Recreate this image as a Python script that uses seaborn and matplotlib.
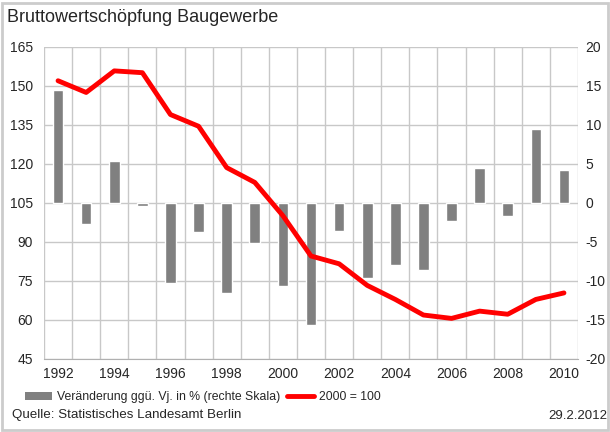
import matplotlib
matplotlib.use("Agg")
import matplotlib.pyplot as plt
from matplotlib.patches import Patch, Rectangle
from matplotlib.lines import Line2D
import seaborn as sns
import pandas as pd
import numpy as np

# data
years = [str(y) for y in range(1992, 2011)]
change_pct = [14.5, -2.7, 5.3, -0.4, -10.3, -3.7, -11.6, -5.2, -10.7, -15.7,
              -3.6, -9.7, -8.0, -8.6, -2.3, 4.5, -1.7, 9.4, 4.2]
index_2000 = [151.9, 147.4, 155.7, 155.0, 138.9, 134.4, 118.5, 112.8, 100.0, 84.5,
              81.5, 73.2, 67.8, 61.8, 60.5, 63.3, 62.1, 67.8, 70.3]
left_ticks = [45, 60, 75, 90, 105, 120, 135, 150, 165]
right_ticks = [-20, -15, -10, -5, 0, 5, 10, 15, 20]

df = pd.DataFrame({"year": years, "change": change_pct, "index": index_2000,
                   "pos": np.arange(len(years))})

sns.set_style("white")
plt.rcParams["font.family"] = ["Liberation Sans", "DejaVu Sans"]

fig = plt.figure(figsize=(6.10, 4.32), dpi=100)
fig.patch.set_facecolor("white")
# thin grey frame round the whole picture
fig.add_artist(Rectangle((0.004, 0.004), 0.992, 0.988, transform=fig.transFigure,
                         fill=False, edgecolor="#cccccc", linewidth=2))

ax = fig.add_axes([44 / 610, (432 - 358.7) / 432, 534 / 610, 312 / 432])

# bars (right scale) on the main axes
sns.barplot(data=df, x="year", y="change", color="#808080", saturation=1,
            width=0.38, ax=ax, zorder=2)
ax.set_ylim(-20, 20)
ax.set_xlim(-0.5, len(years) - 0.5)
ax.set_xlabel("")
ax.set_ylabel("")

# index line (left scale) on the twin axes
ax2 = ax.twinx()
sns.lineplot(data=df, x="pos", y="index", color="#ff0000", linewidth=3.5, ax=ax2)
ax2.set_ylim(45, 165)
ax2.set_ylabel("")
ax2.set_xlabel("")

# swap sides: bars' scale on the right, index scale on the left
ax.yaxis.tick_right()
ax.yaxis.set_label_position("right")
ax2.yaxis.tick_left()
ax2.yaxis.set_label_position("left")

ax.set_yticks(right_ticks)
ax.set_yticklabels([str(t) for t in right_ticks], fontsize=10)
ax.tick_params(axis="y", length=0, pad=5.5)
ax.set_xticks(df["pos"][::2])
ax.set_xticklabels(years[::2], fontsize=10)
ax.tick_params(axis="x", length=0, pad=6)
ax.set_xticks(np.arange(-0.5, len(years)), minor=True)
ax.tick_params(axis="x", which="minor", length=0)
ax.grid(True, axis="y", which="major", color="#c8c8c8", linewidth=1)
ax.grid(True, axis="x", which="minor", color="#c8c8c8", linewidth=1)
ax.set_axisbelow(True)
for side in ["top", "left", "right"]:
    ax.spines[side].set_visible(False)
ax.spines["bottom"].set_color("#b0b0b0")

ax2.set_yticks(left_ticks)
ax2.set_yticklabels([str(t) for t in left_ticks], fontsize=10)
ax2.tick_params(axis="y", length=0, pad=8)
for side in ["top", "left", "right", "bottom"]:
    ax2.spines[side].set_visible(False)

fig.text(7 / 610, 1 - 18 / 432, "Bruttowertschöpfung Baugewerbe", fontsize=13,
         ha="left", va="center")

handles = [Patch(facecolor="#808080", edgecolor="none"),
           Line2D([], [], color="#ff0000", linewidth=3.5)]
labels = ["Veränderung ggü. Vj. in % (rechte Skala)", "2000 = 100"]
fig.legend(handles, labels, loc="center left", bbox_to_anchor=(19 / 610, 1 - 397 / 432),
           ncol=2, frameon=False, fontsize=8.8, handlelength=2.2, handleheight=0.6,
           handletextpad=0.4, columnspacing=0.6, borderpad=0)

fig.text(12 / 610, 1 - 415 / 432, "Quelle: Statistisches Landesamt Berlin",
         fontsize=9.6, ha="left", va="center")
fig.text(607 / 610, 1 - 416 / 432, "29.2.2012", fontsize=9.5, ha="right", va="center")

fig.savefig("out.png", dpi=100)
